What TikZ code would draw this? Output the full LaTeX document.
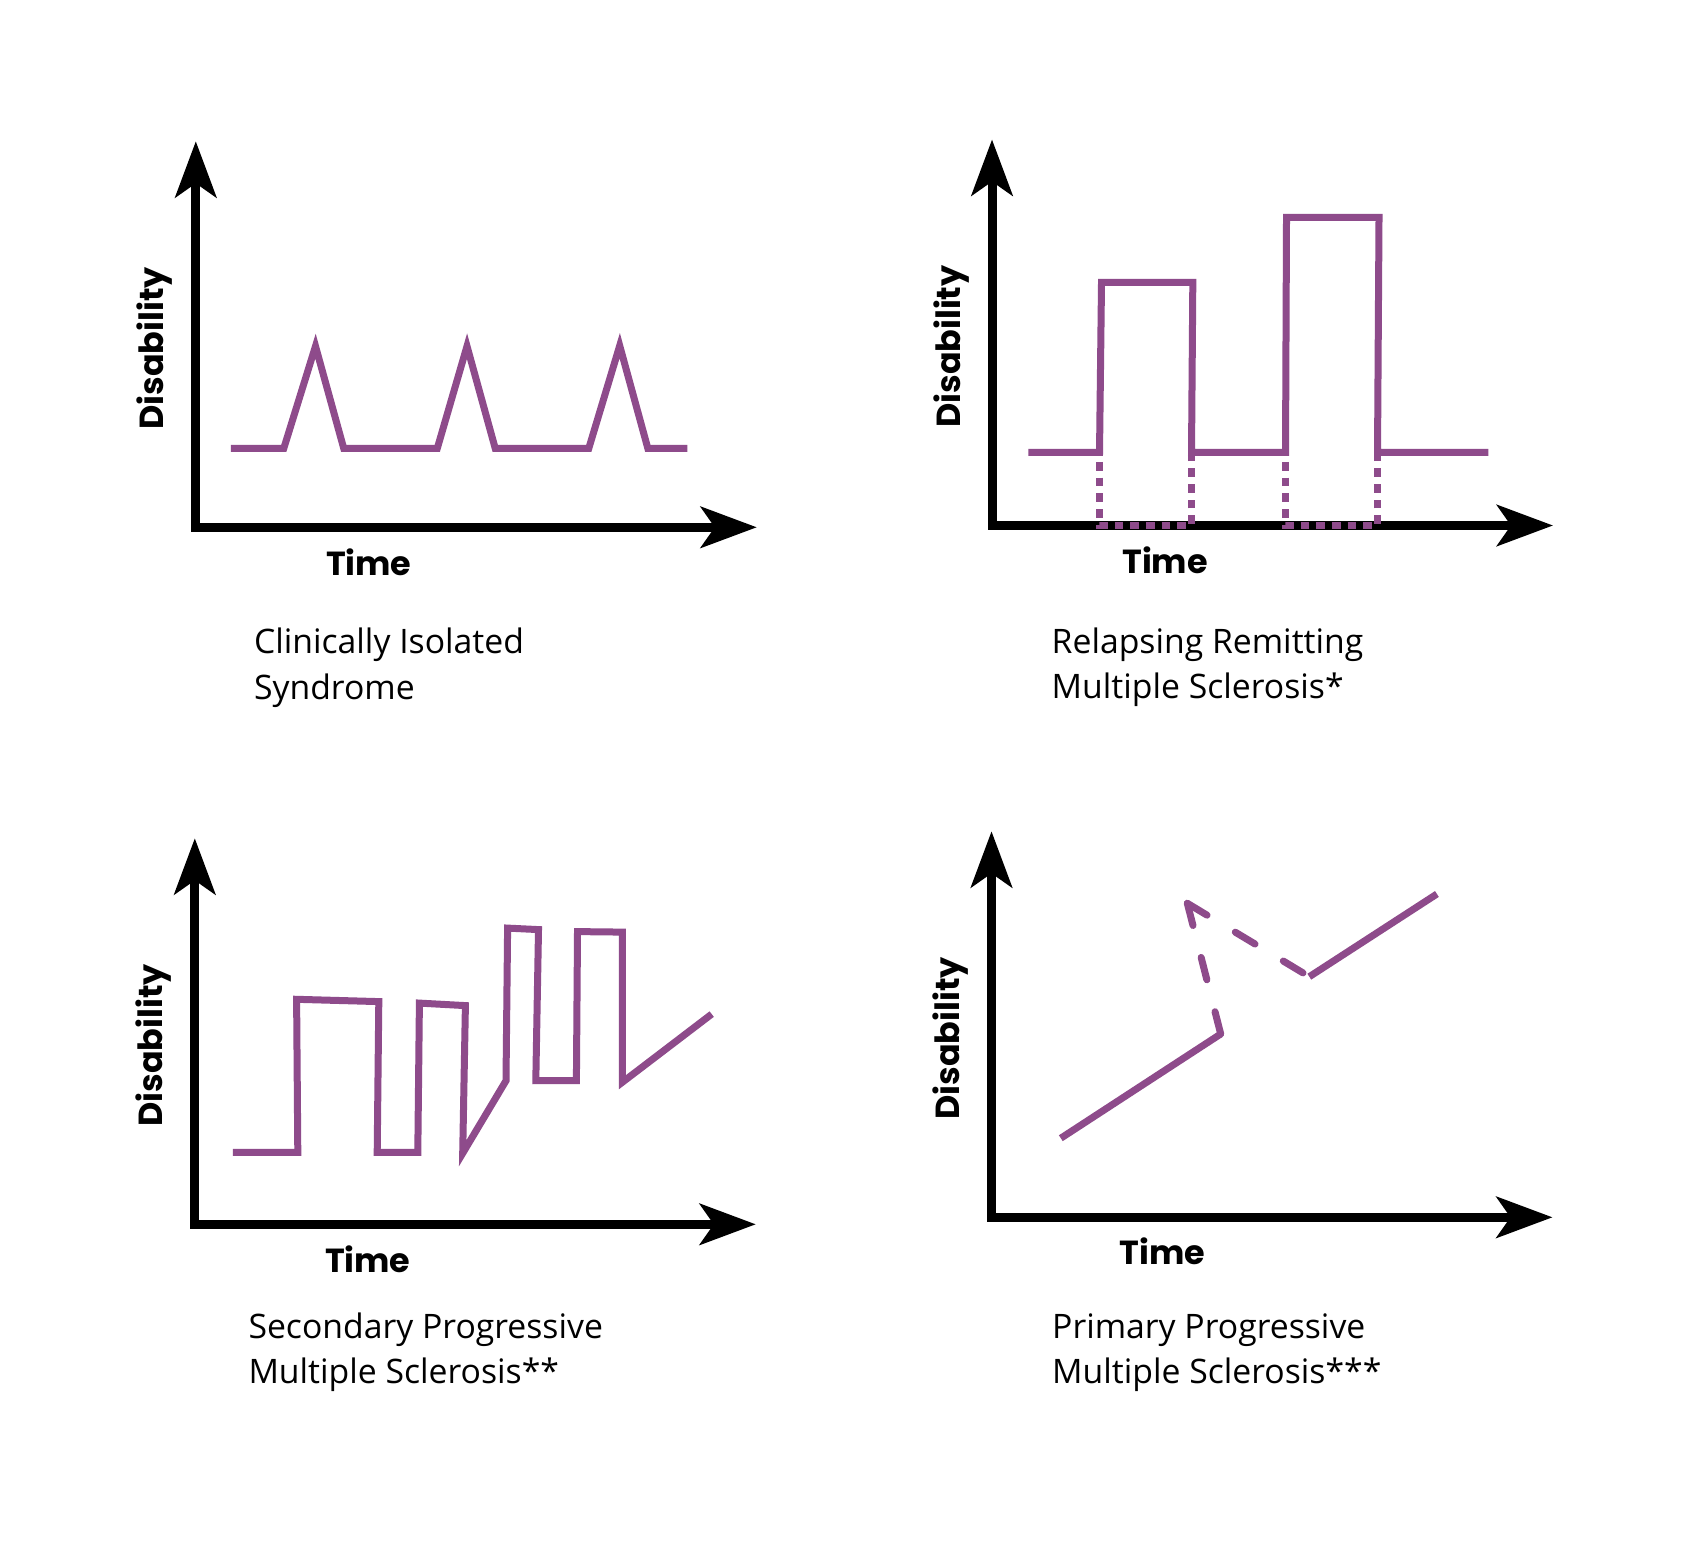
\documentclass[tikz,border=0pt]{standalone}
\usepackage{fontspec}
\setmainfont{Open Sans}
\newfontfamily\axisfont{Poppins}
\usetikzlibrary{arrows.meta}
\definecolor{msviolet}{RGB}{142,75,139}

\begin{document}
\begin{tikzpicture}[x=0.1mm, y=-0.1mm,
		axisline/.style={line width=0.9mm, line join=miter, >={Stealth[length=5.6mm, width=4.1mm, inset=1.4mm]}, <->},
		course/.style={msviolet, line width=0.7mm, line join=miter},
		relapse/.style={msviolet, line width=0.7mm, dash pattern=on 0.87mm off 0.7mm, dash phase=0.62mm},
		guess/.style={msviolet, line width=0.7mm, line cap=round, dash pattern=on 2.3mm off 3.3mm},
		ylab/.style={font=\axisfont\bfseries\fontsize{9.5}{11}\selectfont, rotate=90, anchor=base, inner sep=0pt},
		xlab/.style={font=\axisfont\bfseries\fontsize{9.5}{11}\selectfont, anchor=base, inner sep=0pt},
		typename/.style={font=\fontsize{9.6}{12.9}\selectfont, align=left, anchor=base west, inner sep=0pt}]
	\path[use as bounding box, fill=white] (0,0) rectangle (1694,1567);
	% clinically isolated syndrome
	\begin{scope}[shift={(195.8,527.3)}]
		\coordinate (cis) at (0,0);
		\coordinate (cisy) at (0,-386);
		\coordinate (cisx) at (561,0);
		\draw[axisline] (cisy) |- (cisx);
		\node[ylab] (cisdis) at (-32,-179) {Disability};
		\node[xlab] (cistime) at (173,48) {Time};
		\node[typename] (cisname) at (57.5,172) {Clinically Isolated\\Syndrome};
		\draw[course] (35,-79) -- (88,-79) -- (119.7,-181.1) -- (147.9,-79) -- (241.5,-79) -- (271.2,-181.1)
			-- (299.4,-79) -- (393,-79) -- (423.9,-181.6) -- (452,-79) -- (491.5,-79);
	\end{scope}
	% relapsing remitting
	\begin{scope}[shift={(992,525.5)}]
		\coordinate (rrms) at (0,0);
		\coordinate (rrmsy) at (0,-386);
		\coordinate (rrmsx) at (561,0);
		\coordinate (r1a) at (107.5,-73);
		\coordinate (r1b) at (199.5,-73);
		\coordinate (r2a) at (293.5,-73);
		\coordinate (r2b) at (385.5,-73);
		\draw[axisline] (rrmsy) |- (rrmsx);
		\node[ylab] (rrmsdis) at (-32,-179) {Disability};
		\node[xlab] (rrmstime) at (173,48) {Time};
		\node[typename] (rrmsname) at (59,173.5) {Relapsing Remitting\\Multiple Sclerosis*};
		\draw[relapse] (r1a) -- (r1a |- rrms) -- (r1b |- rrms) -- (r1b);
		\draw[relapse] (r2a) -- (r2a |- rrms) -- (r2b |- rrms) -- (r2b);
		\draw[course] (36.3,-73) -- (r1a) -- (109.5,-243) -- (200.8,-243) -- (r1b) -- (r2a) -- (294.5,-308)
			-- (387,-308) -- (r2b) -- (496.3,-73);
	\end{scope}
	% secondary progressive
	\begin{scope}[shift={(194.8,1224.3)}]
		\coordinate (spms) at (0,0);
		\coordinate (spmsy) at (0,-386);
		\coordinate (spmsx) at (561,0);
		\draw[axisline] (spmsy) |- (spmsx);
		\node[ylab] (spmsdis) at (-32,-179) {Disability};
		\node[xlab] (spmstime) at (173,48) {Time};
		\node[typename] (spmsname) at (53,159.5) {Secondary Progressive\\Multiple Sclerosis**};
		\draw[course] (38,-72) -- (103,-72) -- (101.8,-225) -- (184,-222.7) -- (182.4,-72) -- (223,-72)
			-- (224.6,-221.2) -- (270.6,-218.7) -- (267.9,-71.1) -- (311.2,-143.6) -- (312.8,-296.2)
			-- (343.7,-294.7) -- (341,-143.6) -- (381.6,-143.6) -- (382.7,-292.7) -- (427.6,-292.2)
			-- (427.6,-142.1) -- (516.9,-210.2);
	\end{scope}
	% primary progressive
	\begin{scope}[shift={(991.5,1217.3)}]
		\coordinate (ppms) at (0,0);
		\coordinate (ppmsy) at (0,-386);
		\coordinate (ppmsx) at (561,0);
		\coordinate (pstart) at (69.3,-79.1);
		\coordinate (pcorner) at (229.2,-183.3);
		\coordinate (ppeak) at (195.8,-314);
		\coordinate (pvalley) at (317.8,-240.6);
		\coordinate (pend) at (445.4,-323.3);
		\draw[axisline] (ppmsy) |- (ppmsx);
		\node[ylab] (ppmsdis) at (-32,-179) {Disability};
		\node[xlab] (ppmstime) at (171,47) {Time};
		\node[typename] (ppmsname) at (60,166.5) {Primary Progressive\\Multiple Sclerosis***};
		\draw[course] (pstart) -- (pcorner);
		\draw[guess] (pcorner) -- (ppeak);
		\draw[guess] (ppeak) -- (pvalley);
		\draw[course] (pvalley) -- (pend);
	\end{scope}
\end{tikzpicture}
\end{document}
